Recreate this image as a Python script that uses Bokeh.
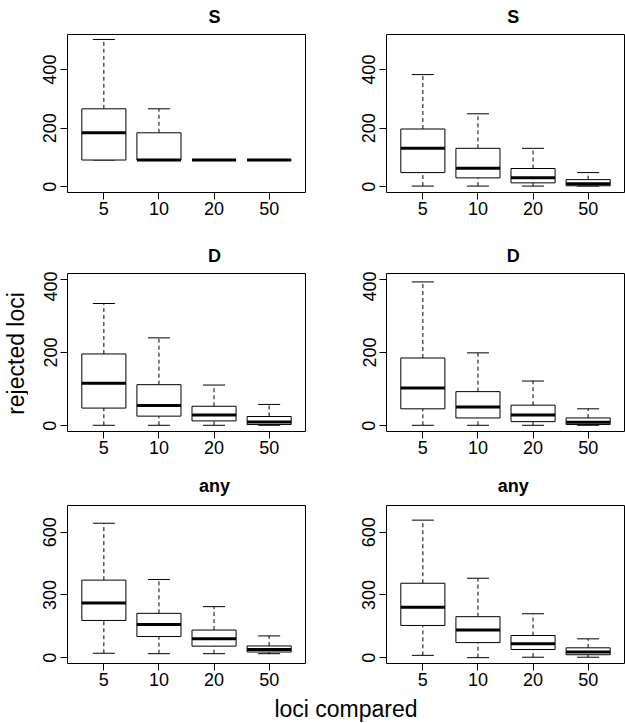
from bokeh.plotting import figure
from bokeh.models import Range1d, FixedTicker, Label
from bokeh.layouts import row, column
from bokeh.embed import file_html
from bokeh.resources import INLINE

# ---------------- data ----------------
categories = ["5", "10", "20", "50"]
row_titles = [["S", "S"], ["D", "D"], ["any", "any"]]
row_ylims = [[0, 500], [0, 400], [0, 700]]
row_yticks = [[0, 200, 400], [0, 200, 400], [0, 300, 600]]

# S, left
s1_lo = [91, 91, 91, 91]
s1_q1 = [91, 91, 91, 91]
s1_med = [184, 91, 91, 91]
s1_q3 = [266, 184, 91, 91]
s1_hi = [503, 266, 91, 91]
# S, right
s2_lo = [2, 2, 2, 2]
s2_q1 = [48, 30, 13, 3]
s2_med = [131, 63, 30, 10]
s2_q3 = [197, 131, 62, 24]
s2_hi = [383, 249, 131, 48]
# D, left
d1_lo = [1, 1, 1, 1]
d1_q1 = [48, 26, 13, 3]
d1_med = [116, 55, 29, 10]
d1_q3 = [196, 112, 53, 25]
d1_hi = [334, 240, 111, 58]
# D, right
d2_lo = [1, 1, 1, 1]
d2_q1 = [46, 21, 11, 3]
d2_med = [103, 51, 29, 9]
d2_q3 = [185, 93, 56, 21]
d2_hi = [393, 199, 122, 46]
# any, left
a1_lo = [21, 19, 19, 19]
a1_q1 = [178, 101, 55, 27]
a1_med = [262, 159, 91, 39]
a1_q3 = [371, 212, 132, 56]
a1_hi = [643, 374, 244, 104]
# any, right
a2_lo = [11, 0, 2, 2]
a2_q1 = [154, 72, 39, 14]
a2_med = [241, 132, 67, 27]
a2_q3 = [356, 196, 106, 47]
a2_hi = [658, 380, 210, 90]

ylabel = "rejected loci"
xlabel = "loci compared"

# ---------------- layout / style ----------------
FONT = "Liberation Sans"
LABEL_W = 28
LEFT_W, RIGHT_W = 280, 317
LEFT_BL, RIGHT_BL = 39, 78
FRAME_W, FRAME_H = 238, 158
PANEL_TOP = 2
TITLE_H = [32, 39, 37]
PANEL_H = [200, 195, 190]
TITLE_GAP = [17.6, 18.0, 19.3]
BOTTOM_H = 30
GRID_W = LEFT_W + RIGHT_W
TOTAL_H = sum(TITLE_H) + sum(PANEL_H) + BOTTOM_H
YLABEL_CENTER = 353      # from the top of the page content
XLABEL_CENTER = 345.7    # from the left of the page content


def blank(width, height, **kw):
    opts = dict(min_border=0)
    opts.update(kw)
    f = figure(width=width, height=height, x_range=Range1d(0, width), y_range=Range1d(0, height),
               x_axis_type=None, y_axis_type=None, output_backend="svg",
               toolbar_location=None, outline_line_color=None, **opts)
    f.background_fill_color = "white"
    f.border_fill_color = "white"
    return f


def make_panel(lo, q1, med, q3, hi, ylim, yticks, is_left, ri):
    n = len(categories)
    xs = list(range(1, n + 1))
    ext = (ylim[1] - ylim[0]) * 0.04
    xext = n * 0.04
    w = LEFT_W if is_left else RIGHT_W
    bl = LEFT_BL if is_left else RIGHT_BL
    br = w - bl - FRAME_W
    bb = PANEL_H[ri] - PANEL_TOP - FRAME_H
    p = figure(width=w, height=PANEL_H[ri],
               x_range=Range1d(0.5 - xext, n + 0.5 + xext),
               y_range=Range1d(ylim[0] - ext, ylim[1] + ext),
               output_backend="svg", toolbar_location=None, title=None,
               min_border_left=bl, min_border_right=br,
               min_border_top=PANEL_TOP, min_border_bottom=bb)
    p.xgrid.visible = False
    p.ygrid.visible = False
    p.outline_line_color = "black"
    p.outline_line_width = 1
    p.background_fill_color = "white"
    p.border_fill_color = "white"

    p.xaxis.ticker = FixedTicker(ticks=xs)
    p.xaxis.major_label_overrides = {x: c for x, c in zip(xs, categories)}
    p.yaxis.ticker = FixedTicker(ticks=yticks)
    p.yaxis.major_label_orientation = "vertical"
    for ax in (p.xaxis, p.yaxis):
        ax.axis_line_color = None
        ax.major_tick_in = 0
        ax.major_tick_out = 7
        ax.major_tick_line_color = "black"
        ax.minor_tick_line_color = None
        ax.major_label_text_font = FONT
        ax.major_label_text_font_size = "18px"
        ax.major_label_text_color = "black"
    p.xaxis.major_label_standoff = 2
    p.yaxis.major_label_standoff = 4

    half, cap = 0.4, 0.2
    p.segment(x0=xs, y0=q3, x1=xs, y1=hi, line_color="black", line_width=1, line_dash="4 3")
    p.segment(x0=xs, y0=lo, x1=xs, y1=q1, line_color="black", line_width=1, line_dash="4 3")
    p.segment(x0=[x - cap for x in xs], y0=hi, x1=[x + cap for x in xs], y1=hi,
              line_color="black", line_width=1)
    p.segment(x0=[x - cap for x in xs], y0=lo, x1=[x + cap for x in xs], y1=lo,
              line_color="black", line_width=1)
    p.quad(left=[x - half for x in xs], right=[x + half for x in xs], bottom=q1, top=q3,
           fill_color="white", line_color="black", line_width=1)
    p.segment(x0=[x - half for x in xs], y0=med, x1=[x + half for x in xs], y1=med,
              line_color="black", line_width=3)
    return p


def title_strip(ri):
    t = blank(GRID_W, TITLE_H[ri], title=None)
    centers = [LEFT_BL + FRAME_W / 2, LEFT_W + RIGHT_BL + FRAME_W / 2]
    for cx, txt in zip(centers, row_titles[ri]):
        t.add_layout(Label(x=cx, y=TITLE_GAP[ri] - PANEL_TOP, text=txt,
                           text_align="center", text_baseline="alphabetic",
                           text_font=FONT, text_font_size="18px", text_font_style="bold",
                           text_color="black"))
    return t


def style_title(f):
    f.title.align = "center"
    f.title.text_font = FONT
    f.title.text_font_size = "23px"
    f.title.text_font_style = "normal"
    f.title.text_color = "black"
    f.title.standoff = 0


panels_data = [
    (s1_lo, s1_q1, s1_med, s1_q3, s1_hi),
    (s2_lo, s2_q1, s2_med, s2_q3, s2_hi),
    (d1_lo, d1_q1, d1_med, d1_q3, d1_hi),
    (d2_lo, d2_q1, d2_med, d2_q3, d2_hi),
    (a1_lo, a1_q1, a1_med, a1_q3, a1_hi),
    (a2_lo, a2_q1, a2_med, a2_q3, a2_hi),
]

items = []
for ri in range(3):
    items.append(title_strip(ri))
    left = make_panel(*panels_data[2 * ri], row_ylims[ri], row_yticks[ri], True, ri)
    right = make_panel(*panels_data[2 * ri + 1], row_ylims[ri], row_yticks[ri], False, ri)
    items.append(row(left, right))

# x label strip: title centred over a frame whose centre is XLABEL_CENTER
xl_left = int(round(2 * (XLABEL_CENTER - LABEL_W) - GRID_W))
bot = blank(GRID_W, BOTTOM_H, title=xlabel, title_location="above",
            min_border_left=max(xl_left, 0), min_border_right=max(-xl_left, 0))
style_title(bot)
items.append(bot)

# y label strip: title centred over a frame whose centre is YLABEL_CENTER
yl_bottom = int(round(TOTAL_H - 2 * YLABEL_CENTER))
lab = blank(LABEL_W, TOTAL_H, title=ylabel, title_location="left",
            min_border_bottom=max(yl_bottom, 0), min_border_top=max(-yl_bottom, 0))
style_title(lab)

p = row(lab, column(*items))

open("out.html", "w").write(file_html(p, INLINE))
